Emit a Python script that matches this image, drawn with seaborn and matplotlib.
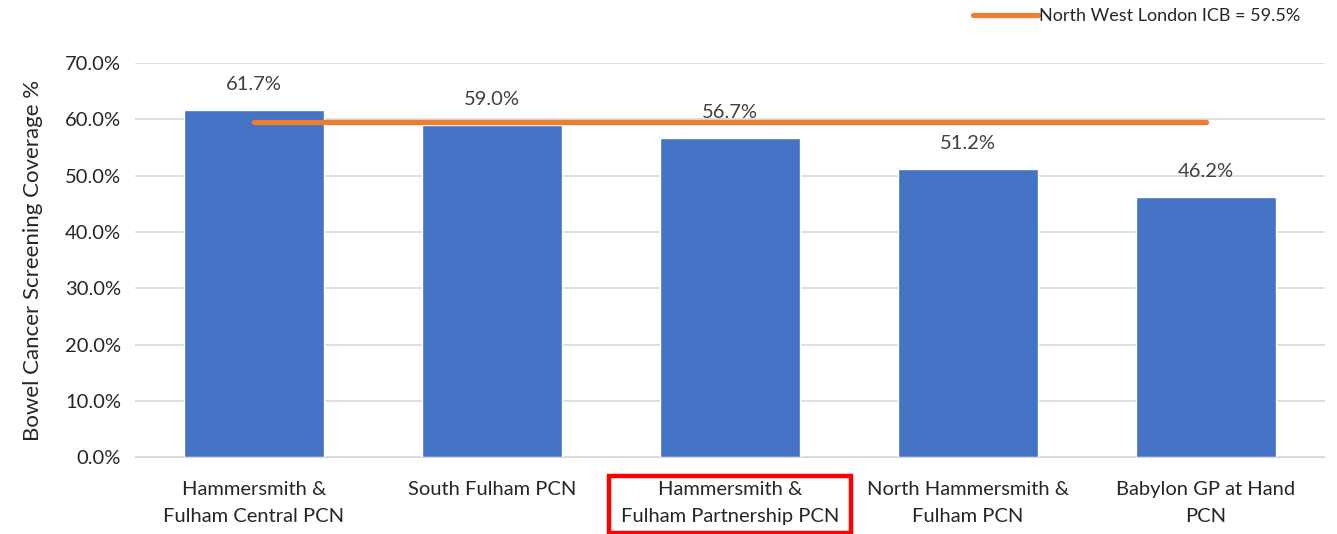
import pandas as pd
import seaborn as sns
import matplotlib.pyplot as plt
from matplotlib.patches import Rectangle

# datos
pcns = ["Hammersmith &\nFulham Central PCN", "South Fulham PCN",
        "Hammersmith &\nFulham Partnership PCN", "North Hammersmith &\nFulham PCN",
        "Babylon GP at Hand\nPCN"]
cobertura = [61.7, 59.0, 56.7, 51.2, 46.2]
icb_valor = 59.5
icb_nombre = "North West London ICB"

df = pd.DataFrame({"pcn": pcns, "cobertura": cobertura})

sns.set_style("white")
plt.rcParams["font.family"] = ["Lato", "DejaVu Sans"]

fig = plt.figure(figsize=(13.37, 5.34), dpi=100)
ax = fig.add_axes([0.101, 0.144, 0.89, 0.738])

sns.barplot(data=df, x="pcn", y="cobertura", color="#4472C4", saturation=1,
            width=0.59, ax=ax, zorder=2)

ax.plot([pcns[0], pcns[-1]], [icb_valor, icb_valor], color="#ED7D31", lw=3.8,
        solid_capstyle="round", zorder=3, label=f"{icb_nombre} = {icb_valor}%")

for i, v in enumerate(cobertura):
    ax.annotate(f"{v:.1f}%", (i, v), xytext=(0, 12), textcoords="offset points",
                ha="center", va="bottom", fontsize=14.5, color="#404040")

ax.set_ylim(0, 70)
ax.set_xlim(-0.5, 4.5)
ax.set_yticks(range(0, 71, 10))
ax.set_yticklabels([f"{t:.1f}%" for t in range(0, 71, 10)], fontsize=14.5, color="#262626")
ax.tick_params(axis="x", labelsize=14.5, labelcolor="#262626", length=0, pad=17)
ax.tick_params(axis="y", length=0, pad=10)
for t in ax.get_xticklabels():
    t.set_linespacing(1.75)
ax.grid(axis="y", color="#D9D9D9", lw=1.2, zorder=0)
ax.set_axisbelow(True)
for s in ["top", "right", "left"]:
    ax.spines[s].set_visible(False)
ax.spines["bottom"].set_color("#D9D9D9")
ax.set_xlabel("")
ax.set_ylabel("Bowel Cancer Screening Coverage %", fontsize=16, color="#262626", labelpad=16)

fig.legend(loc="upper right", bbox_to_anchor=(0.985, 1.015), frameon=False, fontsize=13,
           handlelength=3.6, handletextpad=0.1)

# recuadro rojo en la etiqueta de la PCN
fig.canvas.draw()
bb = ax.get_xticklabels()[2].get_window_extent().transformed(fig.transFigure.inverted())
px, py = 12 / 1337, 8 / 534
fig.add_artist(Rectangle((bb.x0 - px, bb.y0 - py), bb.width + 2 * px, bb.height + 1.6 * py,
                         transform=fig.transFigure, fill=False, edgecolor="#FF0000", lw=3.2))

plt.savefig("out.png", dpi=100)
